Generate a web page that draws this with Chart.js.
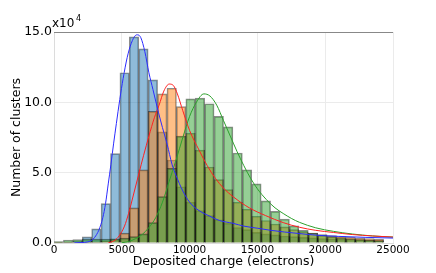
<!DOCTYPE html>
<html>
<head>
<meta charset="utf-8">
<script src="https://cdn.jsdelivr.net/npm/chart.js@4.4.0/dist/chart.umd.min.js"></script>
<style>
  html, body { margin: 0; padding: 0; background: #fff; }
  #wrap { width: 436px; height: 273px; }
</style>
</head>
<body>
<div id="wrap"><canvas id="chart" width="436" height="273"></canvas></div>
<script>
// bin centres in electrons (36 bins of ~694 e- between 0 and 25000)
const binCenters = [347, 1042, 1736, 2431, 3125, 3819, 4514, 5208, 5903, 6597, 7292, 7986,
    8681, 9375, 10069, 10764, 11458, 12153, 12847, 13542, 14236, 14931, 15625, 16319,
    17014, 17708, 18403, 19097, 19792, 20486, 21181, 21875, 22569, 23264, 23958, 24653];

// clusters per bin, in units of 1e4
const blueCounts = [0.03, 0.05, 0.15, 0.43, 1.0, 2.8, 6.35, 12.1, 14.65, 13.8, 11.6, 7.9,
    5.9, 4.0, 2.9, 2.3, 1.95, 1.65, 1.4, 1.1, 0.95, 0.75, 0.65, 0.58,
    0.5, 0.45, 0.4, 0.36, 0.32, 0.3, 0.27, 0.25, 0.22, 0.2, 0.18, 0];
const orangeCounts = [0.01, 0.02, 0.03, 0.05, 0.08, 0.12, 0.25, 0.7, 2.5, 5.2, 9.36, 10.6,
    11.0, 9.7, 7.8, 6.6, 5.4, 4.5, 3.8, 2.9, 2.4, 1.9, 1.6, 1.35,
    1.15, 0.95, 0.8, 0.7, 0.6, 0.52, 0.45, 0.4, 0.35, 0.32, 0.28, 0];
const greenCounts = [0.1, 0.2, 0.25, 0.28, 0.28, 0.28, 0.3, 0.35, 0.45, 0.65, 1.45, 3.3,
    5.3, 7.6, 10.25, 10.3, 9.9, 9.0, 8.25, 6.4, 5.2, 4.2, 3.0, 2.25,
    1.7, 1.22, 0.9, 0.71, 0.56, 0.45, 0.37, 0.3, 0.25, 0.2, 0.17, 0];

// fitted curves [charge, clusters/1e4]
const blueFit = [[1500, 0.01], [2000, 0.03], [2500, 0.08], [2800, 0.2], [3000, 0.4], [3300, 0.9],
    [3600, 1.8], [3800, 2.8], [4000, 4.2], [4200, 5.6], [4400, 7.1], [4600, 8.5], [4850, 10.2],
    [5100, 11.7], [5400, 13.2], [5700, 14.2], [6000, 14.75], [6150, 14.8], [6400, 14.6],
    [6700, 13.6], [7000, 12.1], [7300, 10.9], [7700, 9.3], [8000, 8.2], [8350, 7.0], [8700, 5.6],
    [9000, 4.8], [9500, 3.7], [10000, 2.9], [10700, 2.3], [11500, 1.9], [12200, 1.6], [13200, 1.4],
    [14000, 1.2], [15000, 1.05], [16000, 0.9], [17000, 0.78], [18000, 0.68], [19400, 0.55],
    [21000, 0.47], [23000, 0.4], [25000, 0.35]];
const redFit = [[4000, 0.0], [4500, 0.2], [4800, 0.5], [5200, 1.2], [5500, 2.1], [5800, 3.2],
    [6250, 4.9], [6600, 6.2], [7000, 7.6], [7400, 8.9], [7750, 9.8], [8100, 10.8], [8500, 11.3],
    [8800, 11.2], [9100, 10.6], [9500, 9.4], [10000, 8.0], [10700, 6.6], [11300, 5.5], [11900, 4.6],
    [12500, 3.9], [13200, 3.3], [14400, 2.5], [15600, 1.95], [16900, 1.45], [18100, 1.12],
    [19300, 0.9], [20600, 0.75], [22000, 0.6], [23500, 0.5], [25000, 0.42]];
const greenFit = [[5000, 0.02], [5500, 0.1], [6000, 0.3], [6500, 0.6], [7000, 1.1], [7500, 1.8],
    [8000, 2.9], [8500, 4.4], [9000, 5.9], [9500, 7.5], [10000, 9.0], [10500, 10.0], [11050, 10.6],
    [11500, 10.45], [12000, 9.8], [12500, 8.7], [13000, 7.6], [13500, 6.5], [14000, 5.5],
    [14500, 4.6], [15000, 3.85], [15650, 3.1], [16300, 2.5], [16900, 2.1], [17500, 1.75],
    [18100, 1.47], [19300, 1.08], [20600, 0.83], [22000, 0.64], [23500, 0.5], [25000, 0.42]];

const xTicks = [0, 5000, 10000, 15000, 20000, 25000];
const yTicks = [0, 5, 10, 15];

Chart.defaults.font.family = 'DejaVu Sans';
Chart.defaults.color = '#000';

function bars(counts, fill, order) {
    return {
        type: 'bar',
        data: binCenters.map((x, i) => ({ x: x, y: counts[i] })),
        backgroundColor: fill,
        borderColor: 'rgba(0,0,0,0.45)',
        borderWidth: 1,
        barPercentage: 1,
        categoryPercentage: 1,
        grouped: false,
        order: order
    };
}

function fitLine(points, color) {
    return {
        type: 'line',
        data: points.map(p => ({ x: p[0], y: p[1] })),
        borderColor: color,
        borderWidth: 1,
        pointRadius: 0,
        fill: false,
        cubicInterpolationMode: 'monotone',
        order: 0
    };
}

// top spine and the x10^4 multiplier
const extras = {
    id: 'extras',
    afterDraw(chart) {
        const ctx = chart.ctx;
        const a = chart.chartArea;
        ctx.save();
        ctx.strokeStyle = '#888';
        ctx.lineWidth = 1;
        ctx.beginPath();
        ctx.moveTo(a.left, Math.round(a.top) + 0.5);
        ctx.lineTo(a.right, Math.round(a.top) + 0.5);
        ctx.stroke();
        ctx.fillStyle = '#000';
        ctx.textBaseline = 'alphabetic';
        ctx.font = '12px "DejaVu Sans"';
        ctx.fillText('x10', 52, 27);
        ctx.font = '8px "DejaVu Sans"';
        ctx.fillText('4', 76, 20.5);
        ctx.restore();
    }
};

const gridStyle = {
    color: '#ebebeb',
    lineWidth: 1,
    drawTicks: false
};

new Chart(document.getElementById('chart'), {
    type: 'bar',
    data: {
        datasets: [
            fitLine(blueFit, '#2b2bff'),
            fitLine(redFit, '#ff2020'),
            fitLine(greenFit, '#2ca02c'),
            bars(greenCounts, 'rgba(44,160,44,0.5)', 1),
            bars(orangeCounts, 'rgba(255,127,14,0.5)', 2),
            bars(blueCounts, 'rgba(31,119,180,0.5)', 3)
        ]
    },
    options: {
        responsive: false,
        animation: false,
        layout: { padding: { left: 0, right: 43, top: 32, bottom: 0 } },
        plugins: { legend: { display: false }, tooltip: { enabled: false } },
        scales: {
            x: {
                type: 'linear',
                min: 0,
                max: 25000,
                offset: false,
                grid: Object.assign({ offset: false }, gridStyle),
                border: { color: '#dcdcdc' },
                afterBuildTicks: s => { s.ticks = xTicks.map(v => ({ value: v })); },
                afterFit: s => { s.height = 30; },
                ticks: {
                    font: { size: 10.5 },
                    padding: 1,
                    maxRotation: 0,
                    autoSkip: false,
                    callback: v => String(v)
                },
                title: {
                    display: true,
                    text: 'Deposited charge (electrons)',
                    font: { size: 12.5 },
                    padding: { top: 0, bottom: 4 }
                }
            },
            y: {
                min: 0,
                max: 15,
                grid: gridStyle,
                border: { color: '#dcdcdc' },
                afterBuildTicks: s => { s.ticks = yTicks.map(v => ({ value: v })); },
                afterFit: s => { s.width = 54; },
                ticks: {
                    font: { size: 12.5 },
                    padding: 2,
                    callback: v => v.toFixed(1)
                },
                title: {
                    display: true,
                    text: 'Number of clusters',
                    font: { size: 12.5 },
                    padding: { top: 9, bottom: 0 }
                }
            }
        }
    },
    plugins: [extras]
});
</script>
</body>
</html>
